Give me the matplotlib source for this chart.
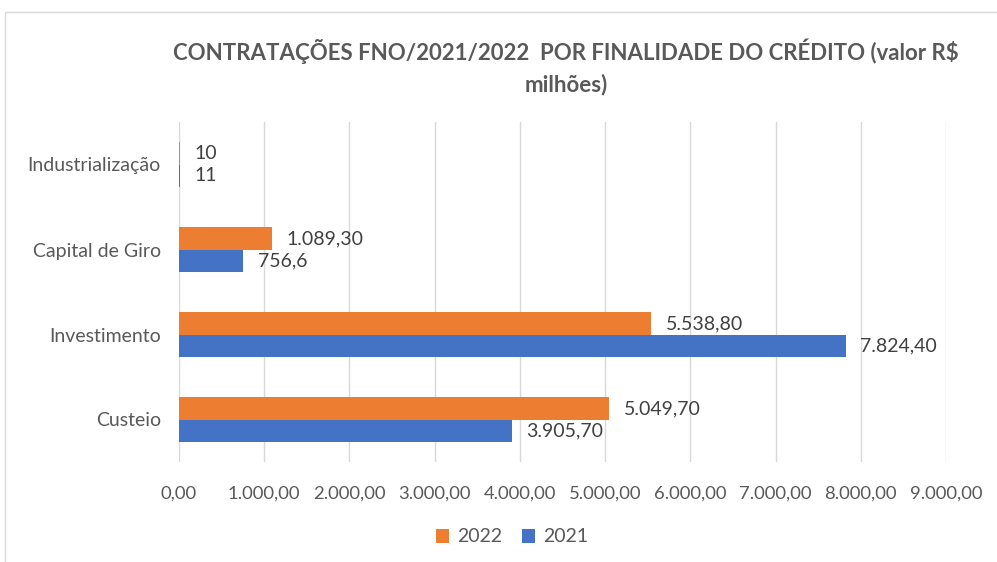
import matplotlib.pyplot as plt
from matplotlib.patches import Rectangle
import numpy as np

plt.rcParams['font.family'] = ['Lato', 'DejaVu Sans']

# Dados
categorias = ['Custeio', 'Investimento', 'Capital de Giro', 'Industrialização']
valores_2022 = [5049.70, 5538.80, 1089.30, 10]
valores_2021 = [3905.70, 7824.40, 756.6, 11]
rotulos_2022 = ['5.049,70', '5.538,80', '1.089,30', '10']
rotulos_2021 = ['3.905,70', '7.824,40', '756,6', '11']
ticks_x = np.arange(0, 9001, 1000)

cor_2022 = '#ED7D31'
cor_2021 = '#4472C4'
cinza = '#595959'

fig = plt.figure(figsize=(9.97, 5.62), dpi=100)
ax = fig.add_axes([179 / 997, 1 - 462 / 562, (946 - 179) / 997, (462 - 122) / 562])

# borda do gráfico
fig.patches.append(Rectangle((5 / 997, -0.1), 1.2, 1 - 12 / 562 + 0.1, transform=fig.transFigure,
                             fill=False, edgecolor='#D9D9D9', linewidth=1))

y = np.arange(len(categorias))
h = 0.26
ax.barh(y + h / 2, valores_2022, height=h, color=cor_2022, label='2022', zorder=3)
ax.barh(y - h / 2, valores_2021, height=h, color=cor_2021, label='2021', zorder=3)

for i in range(len(categorias)):
    ax.text(valores_2022[i] + 170, y[i] + h / 2, rotulos_2022[i], va='center', ha='left',
            fontsize=14, color='#404040')
    ax.text(valores_2021[i] + 170, y[i] - h / 2, rotulos_2021[i], va='center', ha='left',
            fontsize=14, color='#404040')

ax.set_xlim(0, 9000)
ax.set_ylim(-0.5, 3.5)
ax.set_xticks(ticks_x)
ax.set_xticklabels([f'{v:,.2f}'.replace(',', 'X').replace('.', ',').replace('X', '.') for v in ticks_x])
ax.set_yticks(y)
ax.set_yticklabels(categorias)
ax.tick_params(axis='both', length=0, labelcolor=cinza)
ax.tick_params(axis='y', pad=13, labelsize=14)
ax.tick_params(axis='x', pad=17, labelsize=13.3)
ax.grid(axis='x', color='#D9D9D9', linewidth=1, zorder=0)
for s in ax.spines.values():
    s.set_visible(False)

fig.text(566 / 997, 1 - 67 / 562, 'CONTRATAÇÕES FNO/2021/2022  POR FINALIDADE DO CRÉDITO (valor R$\nmilhões)',
         ha='center', va='center', fontsize=16, fontweight='bold', color=cinza, linespacing=1.5)

fig.legend(loc='center', bbox_to_anchor=(512 / 997, 1 - 537 / 562), ncol=2, frameon=False,
           fontsize=14, labelcolor=cinza, handlelength=0.7, handleheight=0.7, columnspacing=1.0,
           handletextpad=0.4)

fig.savefig('out.png', dpi=100)
